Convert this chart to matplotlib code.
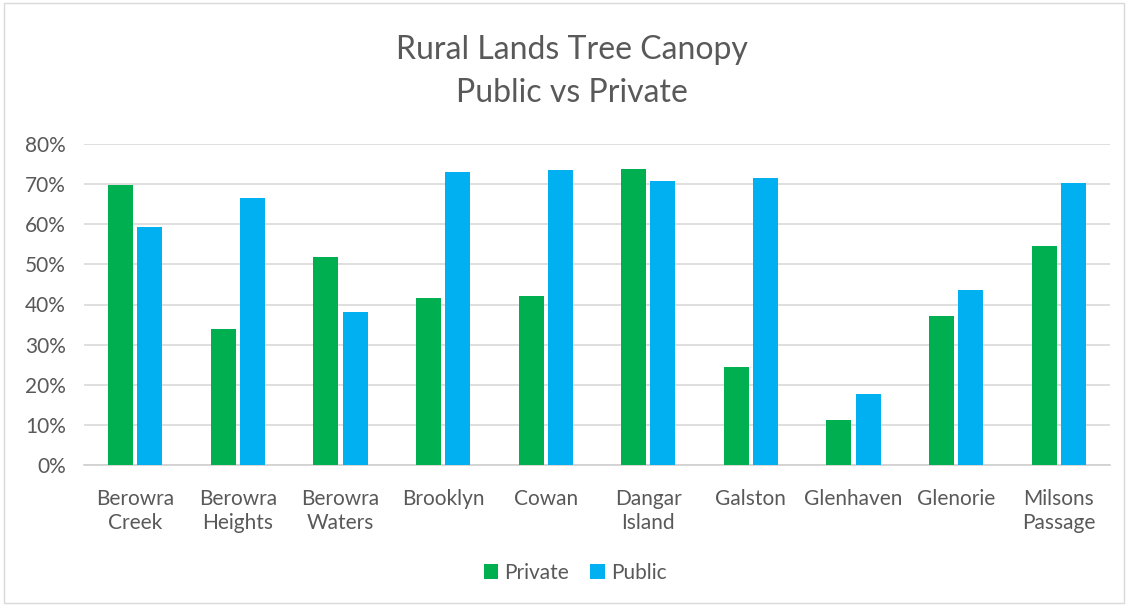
import matplotlib
matplotlib.use("Agg")
import matplotlib.pyplot as plt
import numpy as np
from matplotlib.patches import Rectangle

categories = ["Berowra\nCreek", "Berowra\nHeights", "Berowra\nWaters", "Brooklyn", "Cowan",
              "Dangar\nIsland", "Galston", "Glenhaven", "Glenorie", "Milsons\nPassage"]
private = [69.8, 33.9, 51.8, 41.7, 42.1, 73.7, 24.5, 11.3, 37.1, 54.7]
public = [59.2, 66.6, 38.2, 73.1, 73.5, 70.8, 71.5, 17.8, 43.6, 70.4]
yticks = [0, 10, 20, 30, 40, 50, 60, 70, 80]

plt.rcParams['font.family'] = ['Lato', 'DejaVu Sans']
text_col = '#595959'

fig = plt.figure(figsize=(11.28, 6.05), dpi=100)
ax = fig.add_axes([84/1128, 1-465/605, (1110-84)/1128, (465-144)/605])

x = np.arange(len(categories))
w = 0.245
off = 0.142
ax.bar(x - off, private, w, color='#00b050', label='Private', zorder=3)
ax.bar(x + off, public, w, color='#00b0f0', label='Public', zorder=3)

ax.set_xlim(-0.5, len(categories) - 0.5)
ax.set_ylim(0, 80)
ax.set_yticks(yticks)
ax.set_yticklabels([f"{t}%" for t in yticks], fontsize=15, color=text_col)
ax.set_xticks(x)
ax.set_xticklabels(categories, fontsize=15, color=text_col, linespacing=1.3)
ax.tick_params(axis='y', length=0, pad=13)
ax.tick_params(axis='x', length=0, pad=17)
ax.yaxis.grid(True, color='#d9d9d9', linewidth=1.2, zorder=0)
for s in ['top', 'right', 'left']:
    ax.spines[s].set_visible(False)
ax.spines['bottom'].set_color('#d0d0d0')
ax.spines['bottom'].set_linewidth(1.2)

fig.text(572/1128, 1-50/605, "Rural Lands Tree Canopy", ha='center', va='center',
         fontsize=23, color=text_col)
fig.text(572/1128, 1-93/605, "Public vs Private", ha='center', va='center',
         fontsize=23, color=text_col)

fig.legend(loc='center', bbox_to_anchor=(575/1128, 1-573/605), ncol=2, frameon=False,
           fontsize=15, handlelength=0.7, handleheight=0.7, handletextpad=0.3,
           columnspacing=1.0, labelcolor=text_col)

fig.patches.append(Rectangle((4/1128, 2/605), 1120/1128, 600/605, transform=fig.transFigure,
                             fill=False, edgecolor='#d9d9d9', linewidth=1))

fig.savefig("out.png", dpi=100)
